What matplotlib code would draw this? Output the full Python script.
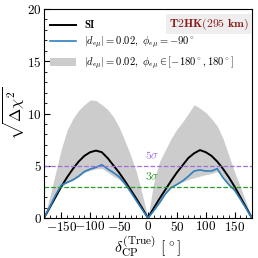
import numpy as np
import matplotlib
matplotlib.use("Agg")
import matplotlib.pyplot as plt

plt.rcParams['mathtext.fontset'] = 'cm'
plt.rcParams['font.family'] = ['DejaVu Serif']

# data
delta = [-180, -170, -160, -150, -140, -130, -120, -110, -100, -90, -80, -70, -60, -50, -40, -30, -20, -10,
         0, 10, 20, 30, 40, 50, 60, 70, 80, 90, 100, 110, 120, 130, 140, 150, 160, 170, 180]
si = [0, 1.0, 2.0, 3.0, 3.9, 4.7, 5.4, 5.95, 6.3, 6.45, 6.3, 5.75, 5.05, 4.35, 3.55, 2.7, 1.85, 0.95,
      0, 0.95, 1.85, 2.7, 3.55, 4.35, 5.05, 5.75, 6.2, 6.5, 6.3, 5.95, 5.4, 4.7, 3.9, 3.0, 2.0, 1.0, 0]
nsi_m90 = [0, 1.05, 2.2, 3.15, 3.4, 3.65, 4.0, 4.45, 4.68, 4.85, 5.1, 4.7, 4.35, 3.95, 3.3, 2.5, 1.65, 0.8,
           0, 0.7, 1.45, 2.3, 2.9, 3.2, 3.55, 4.0, 4.5, 4.6, 4.5, 4.5, 4.72, 3.85, 3.2, 2.65, 1.8, 0.9, 0]
band_lo = [0, 1.0, 2.0, 3.0, 3.35, 3.6, 3.95, 4.35, 4.55, 4.7, 4.75, 4.4, 4.0, 3.7, 3.15, 2.4, 1.55, 0.75,
           0, 0.7, 1.4, 2.3, 2.9, 3.2, 3.45, 3.7, 3.85, 4.0, 4.15, 4.25, 4.45, 3.8, 3.1, 2.6, 1.75, 0.85, 0]
band_hi = [0, 2.0, 4.3, 6.6, 8.4, 9.5, 10.3, 10.85, 11.3, 11.25, 10.85, 10.4, 9.7, 8.7, 7.4, 6.0, 4.4, 2.3,
           0, 3.4, 5.4, 6.5, 7.6, 8.5, 9.2, 10.0, 10.85, 10.5, 10.1, 9.5, 8.8, 7.6, 6.0, 4.4, 3.0, 1.5, 0]
sigma_levels = [5, 3]
sigma_labels = [r'$5\sigma$', r'$3\sigma$']
sigma_colors = ['#a06ee0', '#2a9a2a']

fig = plt.figure(figsize=(2.58, 2.58), dpi=100)
ax = fig.add_axes([0.1705, 0.155, 0.806, 0.81])

ax.fill_between(delta, band_lo, band_hi, color='#cccccc', lw=0,
                label=r'$|d_{e\mu}|=0.02,\ \phi_{e\mu}\in[-180^\circ,180^\circ]$')
ax.plot(delta, si, color='black', lw=1.4, label=r'$\mathbf{SI}$')
ax.plot(delta, nsi_m90, color='#2f7fbf', lw=1.2,
        label=r'$|d_{e\mu}|=0.02,\ \phi_{e\mu}=-90^\circ$')

for lev, lab, col in zip(sigma_levels, sigma_labels, sigma_colors):
    ax.axhline(lev, color=col, ls='--', lw=0.9)
    ax.text(8, lev + 1.0, lab, color=col, fontsize=8.5, ha='center', va='center')

ax.set_xlim(-180, 180)
ax.set_ylim(0, 20)
ax.set_xticks([-150, -100, -50, 0, 50, 100, 150])
ax.set_xticklabels([r'$\mathbf{%d}$' % v if v >= 0 else r'$\mathbf{-%d}$' % (-v)
                    for v in [-150, -100, -50, 0, 50, 100, 150]])
ax.set_yticks([0, 5, 10, 15, 20])
ax.set_yticklabels([r'$\mathbf{%d}$' % v for v in [0, 5, 10, 15, 20]])
ax.set_xticks(np.arange(-170, 180, 10), minor=True)
ax.set_yticks(np.arange(0, 21, 1), minor=True)
ax.tick_params(axis='both', which='major', direction='in', length=4, width=0.8, labelsize=9.5, pad=1.5)
ax.tick_params(axis='both', which='minor', direction='in', length=2, width=0.6)

ax.set_ylabel(r'$\sqrt{\Delta\chi^2}$', fontsize=11.5, labelpad=0.5)
ax.set_xlabel(r'$\delta_{\rm CP}^{\rm (True)}\ [^\circ]$', fontsize=11.5, labelpad=0)

h, l = ax.get_legend_handles_labels()
order = [1, 2, 0]
ax.legend([h[i] for i in order], [l[i] for i in order], loc='upper left', frameon=False,
          fontsize=7.6, handlelength=2.4, borderaxespad=0.2, labelspacing=0.35, handletextpad=0.8,
          bbox_to_anchor=(0.0, 0.985))

ax.text(0.985, 0.965, r'$\mathbf{T2HK(295\ km)}$', transform=ax.transAxes, ha='right', va='top',
        fontsize=8.5, color='#8b1a1a',
        bbox=dict(facecolor='#eeeeee', edgecolor='none', pad=2.0))

fig.savefig('out.png', dpi=100)
